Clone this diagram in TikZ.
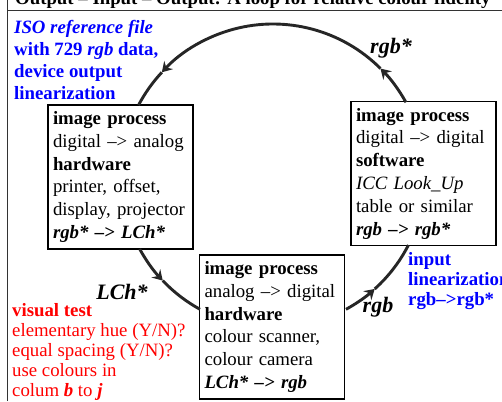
\documentclass[tikz,border=0pt]{standalone}
\usepackage{fontspec}
\setmainfont{Liberation Serif}
\usetikzlibrary{positioning, arrows.meta}

\tikzset{
  procbox/.style={draw, line width=1.6pt, text width=135pt, minimum height=144pt,
    inner xsep=5pt, inner ysep=3pt, align=left, font=\fontsize{18.8}{22.8}\selectfont},
  loopline/.style={line width=2.9pt, black!85},
  looptip/.style={loopline, -{Stealth[length=10pt,width=12pt,inset=3.5pt]}},
  flowlabel/.style={inner sep=0pt, font=\fontsize{22}{24}\selectfont\bfseries\itshape},
  note/.style={anchor=north west, align=left, inner sep=0pt, font=\fontsize{18.8}{20}\selectfont},
}

\begin{document}
\begin{tikzpicture}[x=1pt,y=1pt]
\useasboundingbox (0,0) rectangle (502,401);

% frame and title
\draw[line width=0.8pt, black!80] (7,0) -- (7,401);
\draw[line width=0.8pt, black!80] (7,391) -- (502,391);
\node[anchor=base west, inner sep=0pt, font=\fontsize{18.8}{20}\selectfont\bfseries] (title) at (15,396)
  {Output – Input – Output: A loop for relative colour fidelity};

% the three processes
\node[procbox] (output) at (120.5,224) {\textbf{image process}\\digital –> analog\\\textbf{hardware}\\printer, offset,\\display, projector\\\textbf{\textit{rgb* –> LCh*}}};
\node[procbox] (software) at (423.5,227.5) {\textbf{image process}\\digital –> digital\\\textbf{software}\\\textit{ICC Look\_Up}\\table or similar\\\textbf{\textit{rgb –> rgb*}}};
\node[procbox] (input) at (272,74) {\textbf{image process}\\analog –> digital\\\textbf{hardware}\\colour scanner,\\colour camera\\\textbf{\textit{LCh* –> rgb}}};

% loop
\coordinate (c) at (273,225);
\draw[looptip] (c) ++(29:152) arc[start angle=29, end angle=45, radius=152];
\draw[looptip] (c) ++(45:152) arc[start angle=45, end angle=137, radius=152];
\draw[loopline] (c) ++(137:152) arc[start angle=137, end angle=152.2, radius=152];
\draw[looptip] (c) ++(208.7:152) arc[start angle=208.7, end angle=223.5, radius=152];
\draw[loopline] (c) ++(223.5:152) arc[start angle=223.5, end angle=241.3, radius=152];
\draw[looptip] (c) ++(298.7:152) arc[start angle=298.7, end angle=312, radius=152];
\draw[loopline] (c) ++(312:152) arc[start angle=312, end angle=333, radius=152];

% labels on the loop
\node[flowlabel] (rgbstar) at (391,353) {rgb*};
\node[flowlabel] (lch) at (122,109) {LCh*};
\node[flowlabel] (rgb) at (378,94) {rgb};

% notes
\node[note, text=blue, font=\fontsize{18.8}{22}\selectfont\bfseries] (isofile) at (14,381)
  {\textit{ISO reference file}\\with 729 \textit{rgb} data,\\device output\\linearization};
\node[note, text=red] (visual) at (12,98)
  {\textbf{visual test}\\elementary hue (Y/N)?\\equal spacing (Y/N)?\\use colours in\\colum \textbf{\textit{b}} to \textbf{\textit{j}}};
\node[note, text=blue, font=\fontsize{18.8}{20}\selectfont\bfseries] (inlin) at (408,149)
  {input\\linearization\\rgb–>rgb*};
\end{tikzpicture}
\end{document}
